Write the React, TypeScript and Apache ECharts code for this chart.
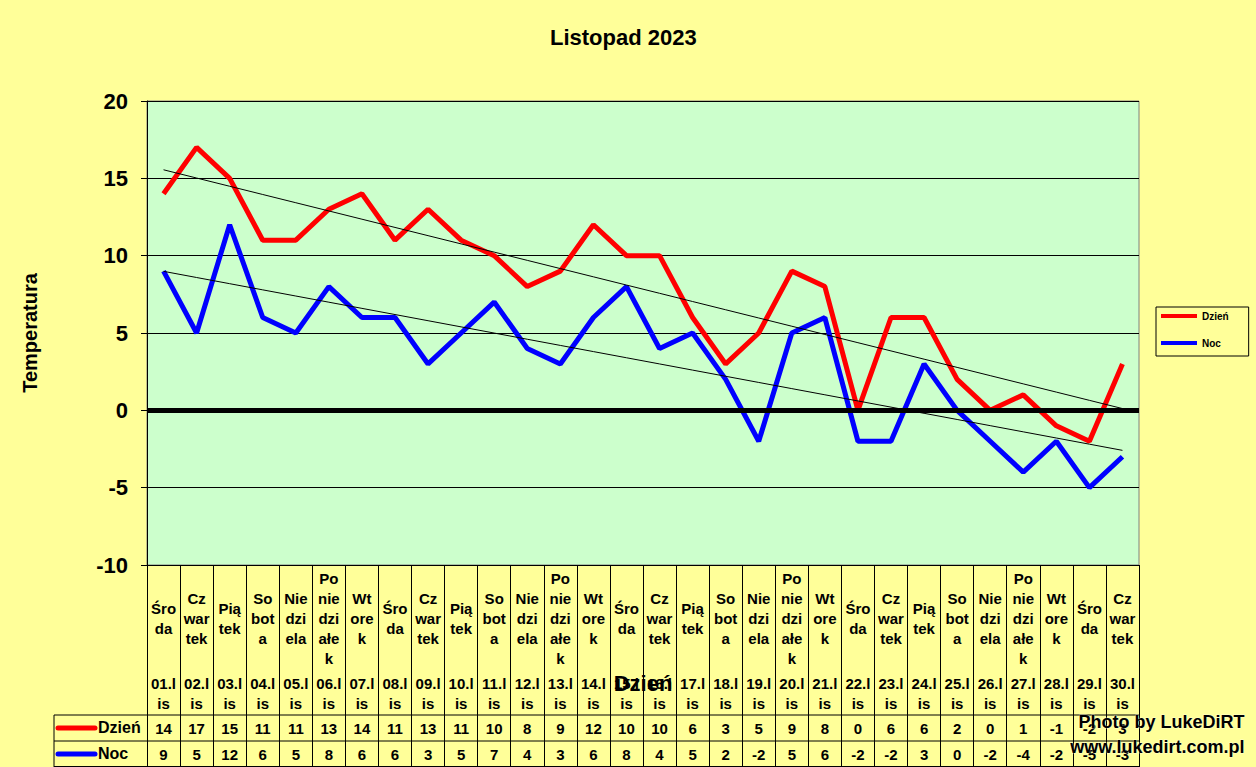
import React, { useEffect, useRef } from "react";
import * as echarts from "echarts";

const dayNames = [
  "Śro\nda", "Cz\nwar\ntek", "Pią\ntek", "So\nbot\na", "Nie\ndzi\nela", "Po\nnie\ndzi\nałe\nk", "Wt\nore\nk",
  "Śro\nda", "Cz\nwar\ntek", "Pią\ntek", "So\nbot\na", "Nie\ndzi\nela", "Po\nnie\ndzi\nałe\nk", "Wt\nore\nk",
  "Śro\nda", "Cz\nwar\ntek", "Pią\ntek", "So\nbot\na", "Nie\ndzi\nela", "Po\nnie\ndzi\nałe\nk", "Wt\nore\nk",
  "Śro\nda", "Cz\nwar\ntek", "Pią\ntek", "So\nbot\na", "Nie\ndzi\nela", "Po\nnie\ndzi\nałe\nk", "Wt\nore\nk",
  "Śro\nda", "Cz\nwar\ntek",
];
const dates = [
  "01.l\nis", "02.l\nis", "03.l\nis", "04.l\nis", "05.l\nis", "06.l\nis", "07.l\nis", "08.l\nis", "09.l\nis", "10.l\nis",
  "11.l\nis", "12.l\nis", "13.l\nis", "14.l\nis", "15.l\nis", "16.l\nis", "17.l\nis", "18.l\nis", "19.l\nis", "20.l\nis",
  "21.l\nis", "22.l\nis", "23.l\nis", "24.l\nis", "25.l\nis", "26.l\nis", "27.l\nis", "28.l\nis", "29.l\nis", "30.l\nis",
];
const dzien = [14, 17, 15, 11, 11, 13, 14, 11, 13, 11, 10, 8, 9, 12, 10, 10, 6, 3, 5, 9, 8, 0, 6, 6, 2, 0, 1, -1, -2, 3];
const noc = [9, 5, 12, 6, 5, 8, 6, 6, 3, 5, 7, 4, 3, 6, 8, 4, 5, 2, -2, 5, 6, -2, -2, 3, 0, -2, -4, -2, -5, -3];
const yTicks = { min: -10, max: 20, interval: 5 };

function trend(vals: number[]): number[] {
  const n = vals.length;
  const mx = (n - 1) / 2;
  const my = vals.reduce((a, b) => a + b, 0) / n;
  let sxy = 0, sxx = 0;
  vals.forEach((v, i) => { sxy += (i - mx) * (v - my); sxx += (i - mx) * (i - mx); });
  const b = sxy / sxx;
  return vals.map((_, i) => my + b * (i - mx));
}

const FONT = "Liberation Sans, Arial, sans-serif";

export default function App() {
  const ref = useRef<HTMLDivElement>(null);
  useEffect(() => {
    if (!ref.current) return;
    const chart = echarts.init(ref.current, undefined, { renderer: "svg" });
    const idx = dates.map((_, i) => String(i));
    const gridLeft = 147, gridTop = 101, gridW = 992, gridH = 464;
    const bottomAxisBase = {
      type: "category" as const,
      gridIndex: 0,
      position: "bottom" as const,
      data: idx,
      axisLine: { show: false, onZero: false },
      axisTick: { show: false },
      splitLine: { show: false },
    };
    chart.setOption({
      animation: false,
      backgroundColor: "#FFFF99",
      textStyle: { fontFamily: FONT },
      title: {
        text: "Listopad 2023",
        left: 545,
        top: 21,
        textStyle: { fontFamily: FONT, fontWeight: "bold", fontSize: 22, color: "#000" },
      },
      legend: {
        data: [
          { name: "Dzień", icon: "rect" },
          { name: "Noc", icon: "rect" },
        ],
        orient: "vertical",
        left: 1156,
        top: 307,
        itemWidth: 36,
        itemHeight: 4,
        itemGap: 17,
        padding: [4, 20, 8, 5],
        borderColor: "#000",
        borderWidth: 1,
        borderRadius: 0,
        textStyle: { fontFamily: FONT, fontWeight: "bold", fontSize: 10, color: "#000" },
      },
      grid: {
        left: gridLeft,
        top: gridTop,
        width: gridW,
        height: gridH,
        show: true,
        backgroundColor: "#CCFFCC",
        borderColor: "#808080",
        borderWidth: 1,
        containLabel: false,
      },
      xAxis: [
        {
          type: "category",
          data: idx,
          boundaryGap: true,
          name: "Dzień",
          nameLocation: "middle",
          nameGap: 112,
          nameTextStyle: { fontFamily: FONT, fontWeight: "bold", fontSize: 22, color: "#000", verticalAlign: "middle" },
          axisLine: { show: true, onZero: false, lineStyle: { color: "#000", width: 1 } },
          axisTick: { show: true, interval: 0, length: 205, lineStyle: { color: "#000", width: 1 } },
          axisLabel: {
            interval: 0,
            margin: 53,
            verticalAlign: "middle",
            formatter: (_v: string, i: number) => dayNames[i],
            fontFamily: FONT, fontWeight: "bold", fontSize: 15, lineHeight: 20, color: "#000",
          },
          splitLine: { show: false },
          z: 5,
        },
        {
          ...bottomAxisBase,
          axisLabel: {
            interval: 0, margin: 128, verticalAlign: "middle",
            formatter: (_v: string, i: number) => dates[i],
            fontFamily: FONT, fontWeight: "bold", fontSize: 15, lineHeight: 20, color: "#000",
          },
        },
        {
          ...bottomAxisBase,
          axisLabel: {
            interval: 0, margin: 163, verticalAlign: "middle",
            formatter: (_v: string, i: number) => String(dzien[i]),
            fontFamily: FONT, fontWeight: "bold", fontSize: 15, color: "#000",
          },
        },
        {
          ...bottomAxisBase,
          axisLabel: {
            interval: 0, margin: 189, verticalAlign: "middle",
            formatter: (_v: string, i: number) => String(noc[i]),
            fontFamily: FONT, fontWeight: "bold", fontSize: 15, color: "#000",
          },
        },
      ],
      yAxis: {
        type: "value",
        min: yTicks.min,
        max: yTicks.max,
        interval: yTicks.interval,
        name: "Temperatura",
        nameLocation: "middle",
        nameGap: 117,
        nameRotate: 90,
        nameTextStyle: { fontFamily: FONT, fontWeight: "bold", fontSize: 20, color: "#000", verticalAlign: "middle" },
        axisLine: { show: true, onZero: false, lineStyle: { color: "#000", width: 1 } },
        axisTick: { show: true, length: 6, lineStyle: { color: "#000" } },
        axisLabel: { margin: 19, fontFamily: FONT, fontWeight: "bold", fontSize: 22, color: "#000" },
        splitLine: { show: true, lineStyle: { color: "#000", width: 1 } },
      },
      series: [
        {
          name: "zero",
          type: "line",
          data: [],
          z: 1,
          silent: true,
          markLine: {
            silent: true,
            symbol: "none",
            label: { show: false },
            lineStyle: { color: "#000", width: 5, type: "solid" },
            data: [{ yAxis: 0 }],
          },
        },
        {
          name: "Dzień",
          type: "line",
          data: dzien,
          symbol: "none",
          z: 3,
          color: "#FF0000",
          lineStyle: { color: "#FF0000", width: 5 },
        },
        {
          name: "Noc",
          type: "line",
          data: noc,
          symbol: "none",
          z: 3,
          color: "#0000FF",
          lineStyle: { color: "#0000FF", width: 5 },
        },
        {
          name: "trendDzien",
          type: "line",
          data: trend(dzien),
          symbol: "none",
          z: 4,
          silent: true,
          lineStyle: { color: "#000", width: 1 },
        },
        {
          name: "trendNoc",
          type: "line",
          data: trend(noc),
          symbol: "none",
          z: 4,
          silent: true,
          lineStyle: { color: "#000", width: 1 },
        },
      ],
      graphic: [
        { type: "line", shape: { x1: 54, y1: 715, x2: 1139, y2: 715 }, style: { stroke: "#000", lineWidth: 1 } },
        { type: "line", shape: { x1: 54, y1: 741, x2: 1139, y2: 741 }, style: { stroke: "#000", lineWidth: 1 } },
        { type: "line", shape: { x1: 54, y1: 766.5, x2: 1139, y2: 766.5 }, style: { stroke: "#000", lineWidth: 1 } },
        { type: "line", shape: { x1: 54, y1: 715, x2: 54, y2: 767 }, style: { stroke: "#000", lineWidth: 1 } },
        { type: "line", shape: { x1: 58, y1: 728, x2: 95, y2: 728 }, style: { stroke: "#FF0000", lineWidth: 5, lineCap: "round" } },
        { type: "line", shape: { x1: 58, y1: 754, x2: 95, y2: 754 }, style: { stroke: "#0000FF", lineWidth: 5, lineCap: "round" } },
        {
          type: "text", left: 98, top: 719,
          style: { text: "Dzień", font: `bold 16px ${FONT}`, fill: "#000" },
        },
        {
          type: "text", left: 98, top: 745,
          style: { text: "Noc", font: `bold 16px ${FONT}`, fill: "#000" },
        },
        {
          type: "text", right: 11, top: 712, z: 100,
          style: { text: "Photo by LukeDiRT", font: `bold 18px ${FONT}`, fill: "#000", stroke: "rgba(255,255,255,0.5)", lineWidth: 1 },
        },
        {
          type: "text", right: 11, top: 737, z: 100,
          style: { text: "www.lukedirt.com.pl", font: `bold 18px ${FONT}`, fill: "#000", stroke: "rgba(255,255,255,0.5)", lineWidth: 1 },
        },
      ],
    });
    return () => chart.dispose();
  }, []);
  return (
    <div
      ref={ref}
      style={{ position: "fixed", left: 0, top: 0, width: 1256, height: 767 }}
    />
  );
}
